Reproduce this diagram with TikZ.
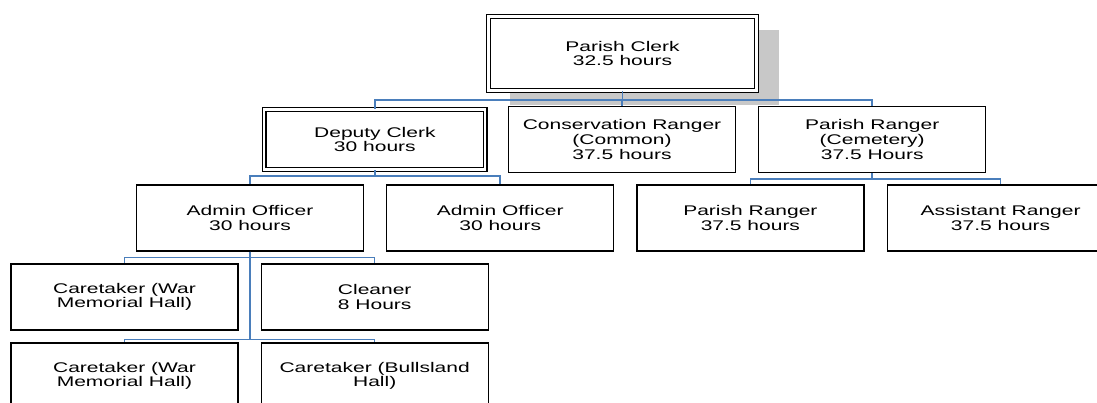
\documentclass[tikz,border=0pt]{standalone}
\usepackage{fontspec}
\setmainfont{Liberation Sans}[FakeStretch=1.5]
\usepackage{tikz}
\usetikzlibrary{positioning, backgrounds, calc}
\definecolor{linkc}{HTML}{4A7EBB}
\definecolor{shadowc}{HTML}{C8C8C8}

\begin{document}
\begin{tikzpicture}[
  x=1pt, y=-1pt,
  role/.style={draw, line width=1.2pt, fill=white, minimum width=227pt, minimum height=66pt, inner sep=2pt, align=center, font=\fontsize{14}{14.6}\selectfont},
  lead/.style={role, line width=1.1pt, double, double distance=2.2pt},
  link/.style={draw=linkc, line width=1.5pt},
  node distance=22pt
]
\useasboundingbox (0,0) rectangle (1097,403);
\clip (0,0) rectangle (1097,403);

% top
\node[lead, minimum width=268pt, minimum height=74pt] (clerk) at (622.5,53.5) {Parish Clerk\\32.5 hours};

% second row
\node[role] (conserv) at (622,139.5) {Conservation Ranger\\(Common)\\37.5 hours};
\node[lead, minimum width=221pt, minimum height=60pt, left=of conserv] (deputy) {Deputy Clerk\\30 hours};
\node[role, right=of conserv] (cemetery) {Parish Ranger\\(Cemetery)\\37.5 Hours};

% third row
\node[role] (admin1) at (250,218) {Admin Officer\\30 hours};
\node[role, right=of admin1] (admin2) {Admin Officer\\30 hours};
\node[role, right=of admin2] (pranger) {Parish Ranger\\37.5 hours};
\node[role, right=of pranger] (assist) {Assistant Ranger\\37.5 hours};

% fourth and fifth rows
\node[role] (care1) at (124.5,297) {Caretaker (War\\Memorial Hall)};
\node[role, right=of care1] (cleaner) {Cleaner\\8 Hours};
\node[role] (care2) at (124.5,376) {Caretaker (War\\Memorial Hall)};
\node[role, right=of care2] (care3) {Caretaker (Bullsland\\Hall)};

\begin{scope}[on background layer]
\fill[shadowc] ($(clerk.north west)+(22,14)$) rectangle ($(clerk.south east)+(22,14)$);
\end{scope}

\draw[link] (clerk.south) -- ++(0,9) -| (deputy.north);
\draw[link] (clerk.south) -- ++(0,9) -| (conserv.north);
\draw[link] (clerk.south) -- ++(0,9) -| (cemetery.north);

\draw[link] (deputy.south) -- ++(0,6) -| (admin1.north);
\draw[link] (deputy.south) -- ++(0,6) -| (admin2.north);
\draw[link] (cemetery.south) -- ++(0,6) -| (pranger.north);
\draw[link] (cemetery.south) -- ++(0,6) -| (assist.north);

\draw[link] (admin1.south) -- ++(0,6) -| (care1.north);
\draw[link] (admin1.south) -- ++(0,6) -| (cleaner.north);
\draw[link] (admin1.south) -- ++(0,88) -| (care2.north);
\draw[link] (admin1.south) -- ++(0,88) -| (care3.north);
\end{tikzpicture}
\end{document}
